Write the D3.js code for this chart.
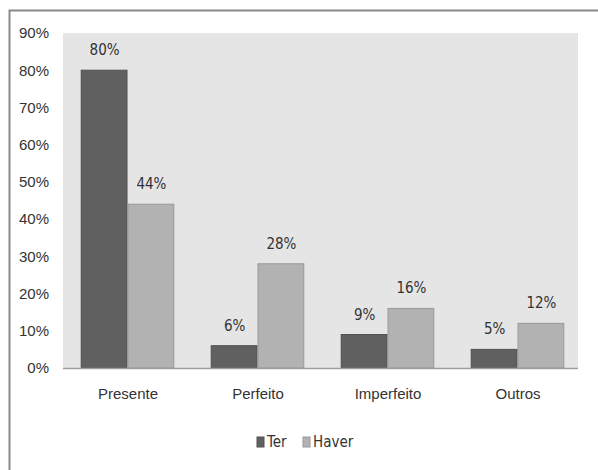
<!DOCTYPE html>
<html>
<head>
<meta charset="utf-8">
<script src="https://cdn.jsdelivr.net/npm/d3@7"></script>
<style>
  body { margin: 0; background: #fff; }
  svg { display: block; font-family: "Liberation Sans Narrow", "DejaVu Sans Condensed", sans-serif; }
</style>
</head>
<body>
<div id="chart"></div>
<script>
const categories = ['Presente', 'Perfeito', 'Imperfeito', 'Outros'];
const seriesNames = ['Ter', 'Haver'];
const terValues = [80, 6, 9, 5];
const haverValues = [44, 28, 16, 12];
const yTicks = [0, 10, 20, 30, 40, 50, 60, 70, 80, 90];

const colors = { Ter: '#606060', Haver: '#b2b2b2' };
const fontSize = 15;

const width = 598;
const height = 470;
const margin = ({ top: 33, right: 15, bottom: 102, left: 63 });

const data = categories.map((c, i) => ({
  category: c,
  values: [
    { series: 'Ter', value: terValues[i] },
    { series: 'Haver', value: haverValues[i] }
  ]
}));

const x = d3.scaleBand()
  .domain(categories)
  .range([margin.left, width - margin.right])
  .paddingInner(0.28)
  .paddingOuter(0.14);

const xInner = d3.scaleBand()
  .domain(seriesNames)
  .range([0, x.bandwidth()]);

const y = d3.scaleLinear()
  .domain([0, 90])
  .range([height - margin.bottom, margin.top]);

const svg = d3.select('#chart')
  .append('svg')
  .attr('width', width)
  .attr('height', height);

// outer frame
svg.append('rect')
  .attr('x', 9.5)
  .attr('y', 10.5)
  .attr('width', width + 10)
  .attr('height', height + 10)
  .attr('fill', 'none')
  .attr('stroke', '#8a8a8a')
  .attr('stroke-width', 2);

// plot background
svg.append('rect')
  .attr('x', margin.left)
  .attr('y', margin.top)
  .attr('width', width - margin.left - margin.right - 5)
  .attr('height', height - margin.bottom - margin.top)
  .attr('fill', '#e5e5e5');

const yAxis = g => g
  .attr('transform', `translate(${margin.left - 11},0)`)
  .call(d3.axisLeft(y)
    .tickValues(yTicks)
    .tickSize(0)
    .tickFormat(d => d + '%'))
  .call(g => g.select('.domain').remove())
  .call(g => g.selectAll('text')
    .attr('font-family', null)
    .attr('font-size', fontSize)
    .attr('fill', '#333'));

svg.append('g').call(yAxis);

const groups = svg.append('g')
  .selectAll('g')
  .data(data)
  .join('g')
  .attr('transform', d => `translate(${x(d.category)},0)`);

groups.selectAll('rect')
  .data(d => d.values)
  .join('rect')
  .attr('x', d => xInner(d.series))
  .attr('y', d => y(d.value))
  .attr('width', xInner.bandwidth() - 1)
  .attr('height', d => y(0) - y(d.value))
  .attr('fill', d => colors[d.series])
  .attr('stroke', d => d.series === 'Ter' ? '#505050' : '#999')
  .attr('stroke-width', 1);

groups.selectAll('text')
  .data(d => d.values)
  .join('text')
  .attr('x', d => xInner(d.series) + xInner.bandwidth() / 2)
  .attr('y', d => y(d.value) - 15)
  .attr('text-anchor', 'middle')
  .attr('font-size', fontSize)
  .attr('fill', '#333')
  .text(d => d.value + '%');

// baseline
svg.append('line')
  .attr('x1', margin.left)
  .attr('x2', width - margin.right - 5)
  .attr('y1', y(0) + 0.5)
  .attr('y2', y(0) + 0.5)
  .attr('stroke', '#a0a0a0')
  .attr('stroke-width', 1.5);

const xAxis = g => g
  .attr('transform', `translate(0,${y(0) + 17})`)
  .call(d3.axisBottom(x).tickSize(0))
  .call(g => g.select('.domain').remove())
  .call(g => g.selectAll('text')
    .attr('font-family', null)
    .attr('font-size', fontSize)
    .attr('fill', '#333'));

svg.append('g').call(xAxis);

// legend
const legend = svg.append('g')
  .attr('transform', 'translate(257,437)')
  .selectAll('g')
  .data(seriesNames)
  .join('g')
  .attr('transform', (d, i) => `translate(${i * 46},0)`);

legend.append('rect')
  .attr('width', 7)
  .attr('height', 10)
  .attr('fill', d => colors[d])
  .attr('stroke', d => d === 'Ter' ? '#505050' : '#999');

legend.append('text')
  .attr('x', 10)
  .attr('y', 10)
  .attr('font-size', fontSize)
  .attr('fill', '#333')
  .text(d => d);
</script>
</body>
</html>
